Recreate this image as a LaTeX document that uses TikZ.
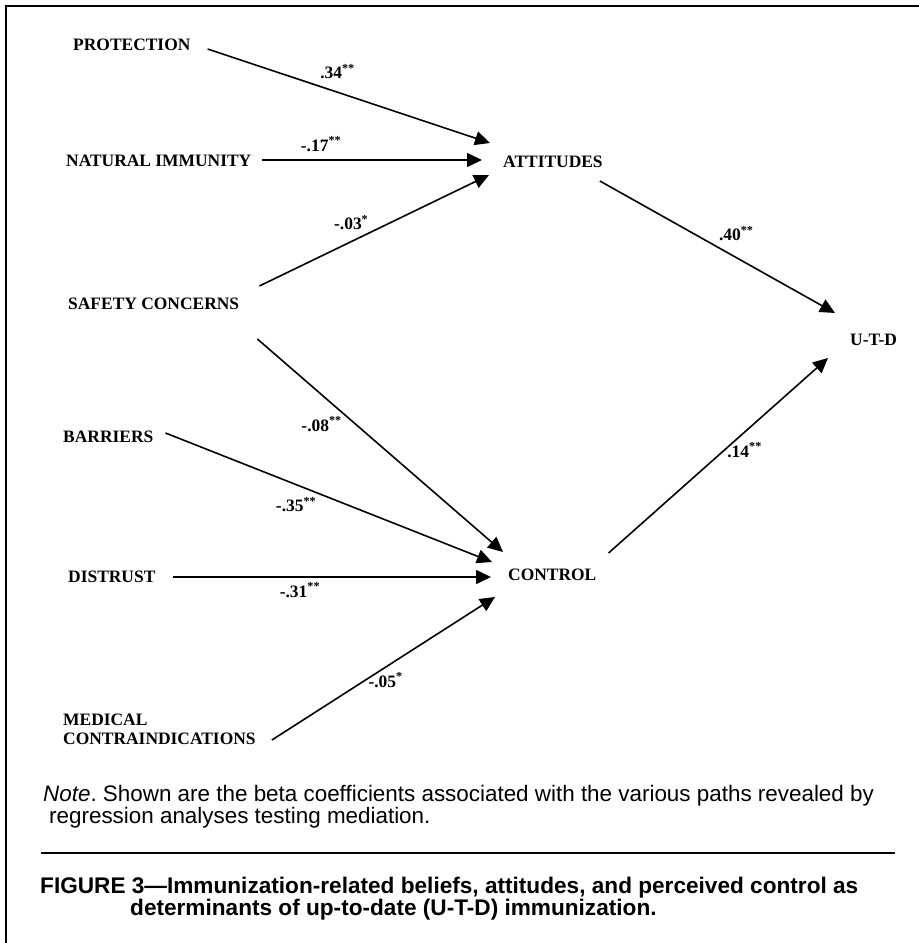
\documentclass[tikz,border=0pt]{standalone}
\usepackage{fontspec}
\setmainfont{Liberation Serif}
\setsansfont{Liberation Sans}
\usetikzlibrary{arrows.meta, positioning}
\frenchspacing

\begin{document}
\begin{tikzpicture}[x=1bp, y=-1bp,
  var/.style={font=\bfseries\fontsize{17.5}{19}\selectfont, inner sep=0pt, anchor=base west},
  coef/.style={font=\bfseries\fontsize{17.5}{19}\selectfont, inner sep=0pt},
  arr/.style={-{Triangle[length=15bp, width=14bp]}, line width=1.6bp},
  note/.style={font=\sffamily\fontsize{22.5}{22}\selectfont, inner sep=0pt, anchor=north west, align=left}
]
\useasboundingbox (0,0) rectangle (919,943);
% frame
\draw[line width=2bp] (6,943) -- (6,6) -- (919,6);

% beliefs
\node[var] (prot) at (73,50) {PROTECTION};
\node[var] (nat) at (66,166) {NATURAL IMMUNITY};
\node[var] (safe) at (68,309) {SAFETY CONCERNS};
\node[var] (barr) at (63,442) {BARRIERS};
\node[var] (dist) at (68,582) {DISTRUST};
\node[var, anchor=north west, align=left] (med) at (63,714) {MEDICAL\\CONTRAINDICATIONS};

% mediators and outcome
\node[var] (att) at (503,167) {ATTITUDES};
\node[var] (ctrl) at (508,580) {CONTROL};
\node[var] (utd) at (850,345) {U-T-D};

% paths to attitudes
\draw[arr] ([shift={(17,-1)}]prot.base east) -- node[coef, pos=0.46, yshift=21bp] {.34\textsuperscript{**}} ([shift={(-13,-24)}]att.base west);
\draw[arr] ([shift={(10,-6)}]nat.base east) -- node[coef, pos=0.27, yshift=16bp] {-.17\textsuperscript{**}} ([shift={(-21,-7)}]att.base west);
\draw[arr] ([shift={(20,-23)}]safe.base east) -- node[coef, pos=0.4, yshift=19bp] {-.03\textsuperscript{*}} ([shift={(-14,8)}]att.base west);

% paths to control
\draw[arr] ([shift={(18,30)}]safe.base east) -- node[coef, pos=0.4, xshift=-34bp] {-.08\textsuperscript{**}} ([shift={(-5,-28)}]ctrl.base west);
\draw[arr] ([shift={(12,-9)}]barr.base east) -- node[coef, pos=0.4, yshift=-20bp] {-.35\textsuperscript{**}} ([shift={(-16,-18)}]ctrl.base west);
\draw[arr] ([shift={(17,-5)}]dist.base east) -- node[coef, pos=0.4, yshift=-13bp] {-.31\textsuperscript{**}} ([shift={(-17,-3)}]ctrl.base west);
\draw[arr] ([shift={(16,-5)}]med.south east) -- node[coef, pos=0.51, yshift=-13bp] {-.05\textsuperscript{*}} ([shift={(-13,17)}]ctrl.base west);

% paths to U-T-D
\draw[arr] ([shift={(-3,14)}]att.base east) -- node[coef, pos=0.58, yshift=24bp] {.40\textsuperscript{**}} ([shift={(-15,-32)}]utd.base west);
\draw[arr] ([shift={(12,-27)}]ctrl.base east) -- node[coef, pos=0.62, yshift=-18bp] {.14\textsuperscript{**}} ([shift={(-22,13)}]utd.base west);

% note and caption
\node[note] (notetxt) at (43,785) {\textit{Note}. Shown are the beta coefficients associated with the various paths revealed by\\\hspace*{6bp}regression analyses testing mediation.};
\draw[line width=1.6bp] (41,853) -- (895,853);
\node[note, font=\sffamily\bfseries\fontsize{22.7}{20.5}\selectfont] (caption) at (40,877) {FIGURE 3---Immunization-related beliefs, attitudes, and perceived control as\\\hspace*{90bp}determinants of up-to-date (U-T-D) immunization.};
\end{tikzpicture}
\end{document}
